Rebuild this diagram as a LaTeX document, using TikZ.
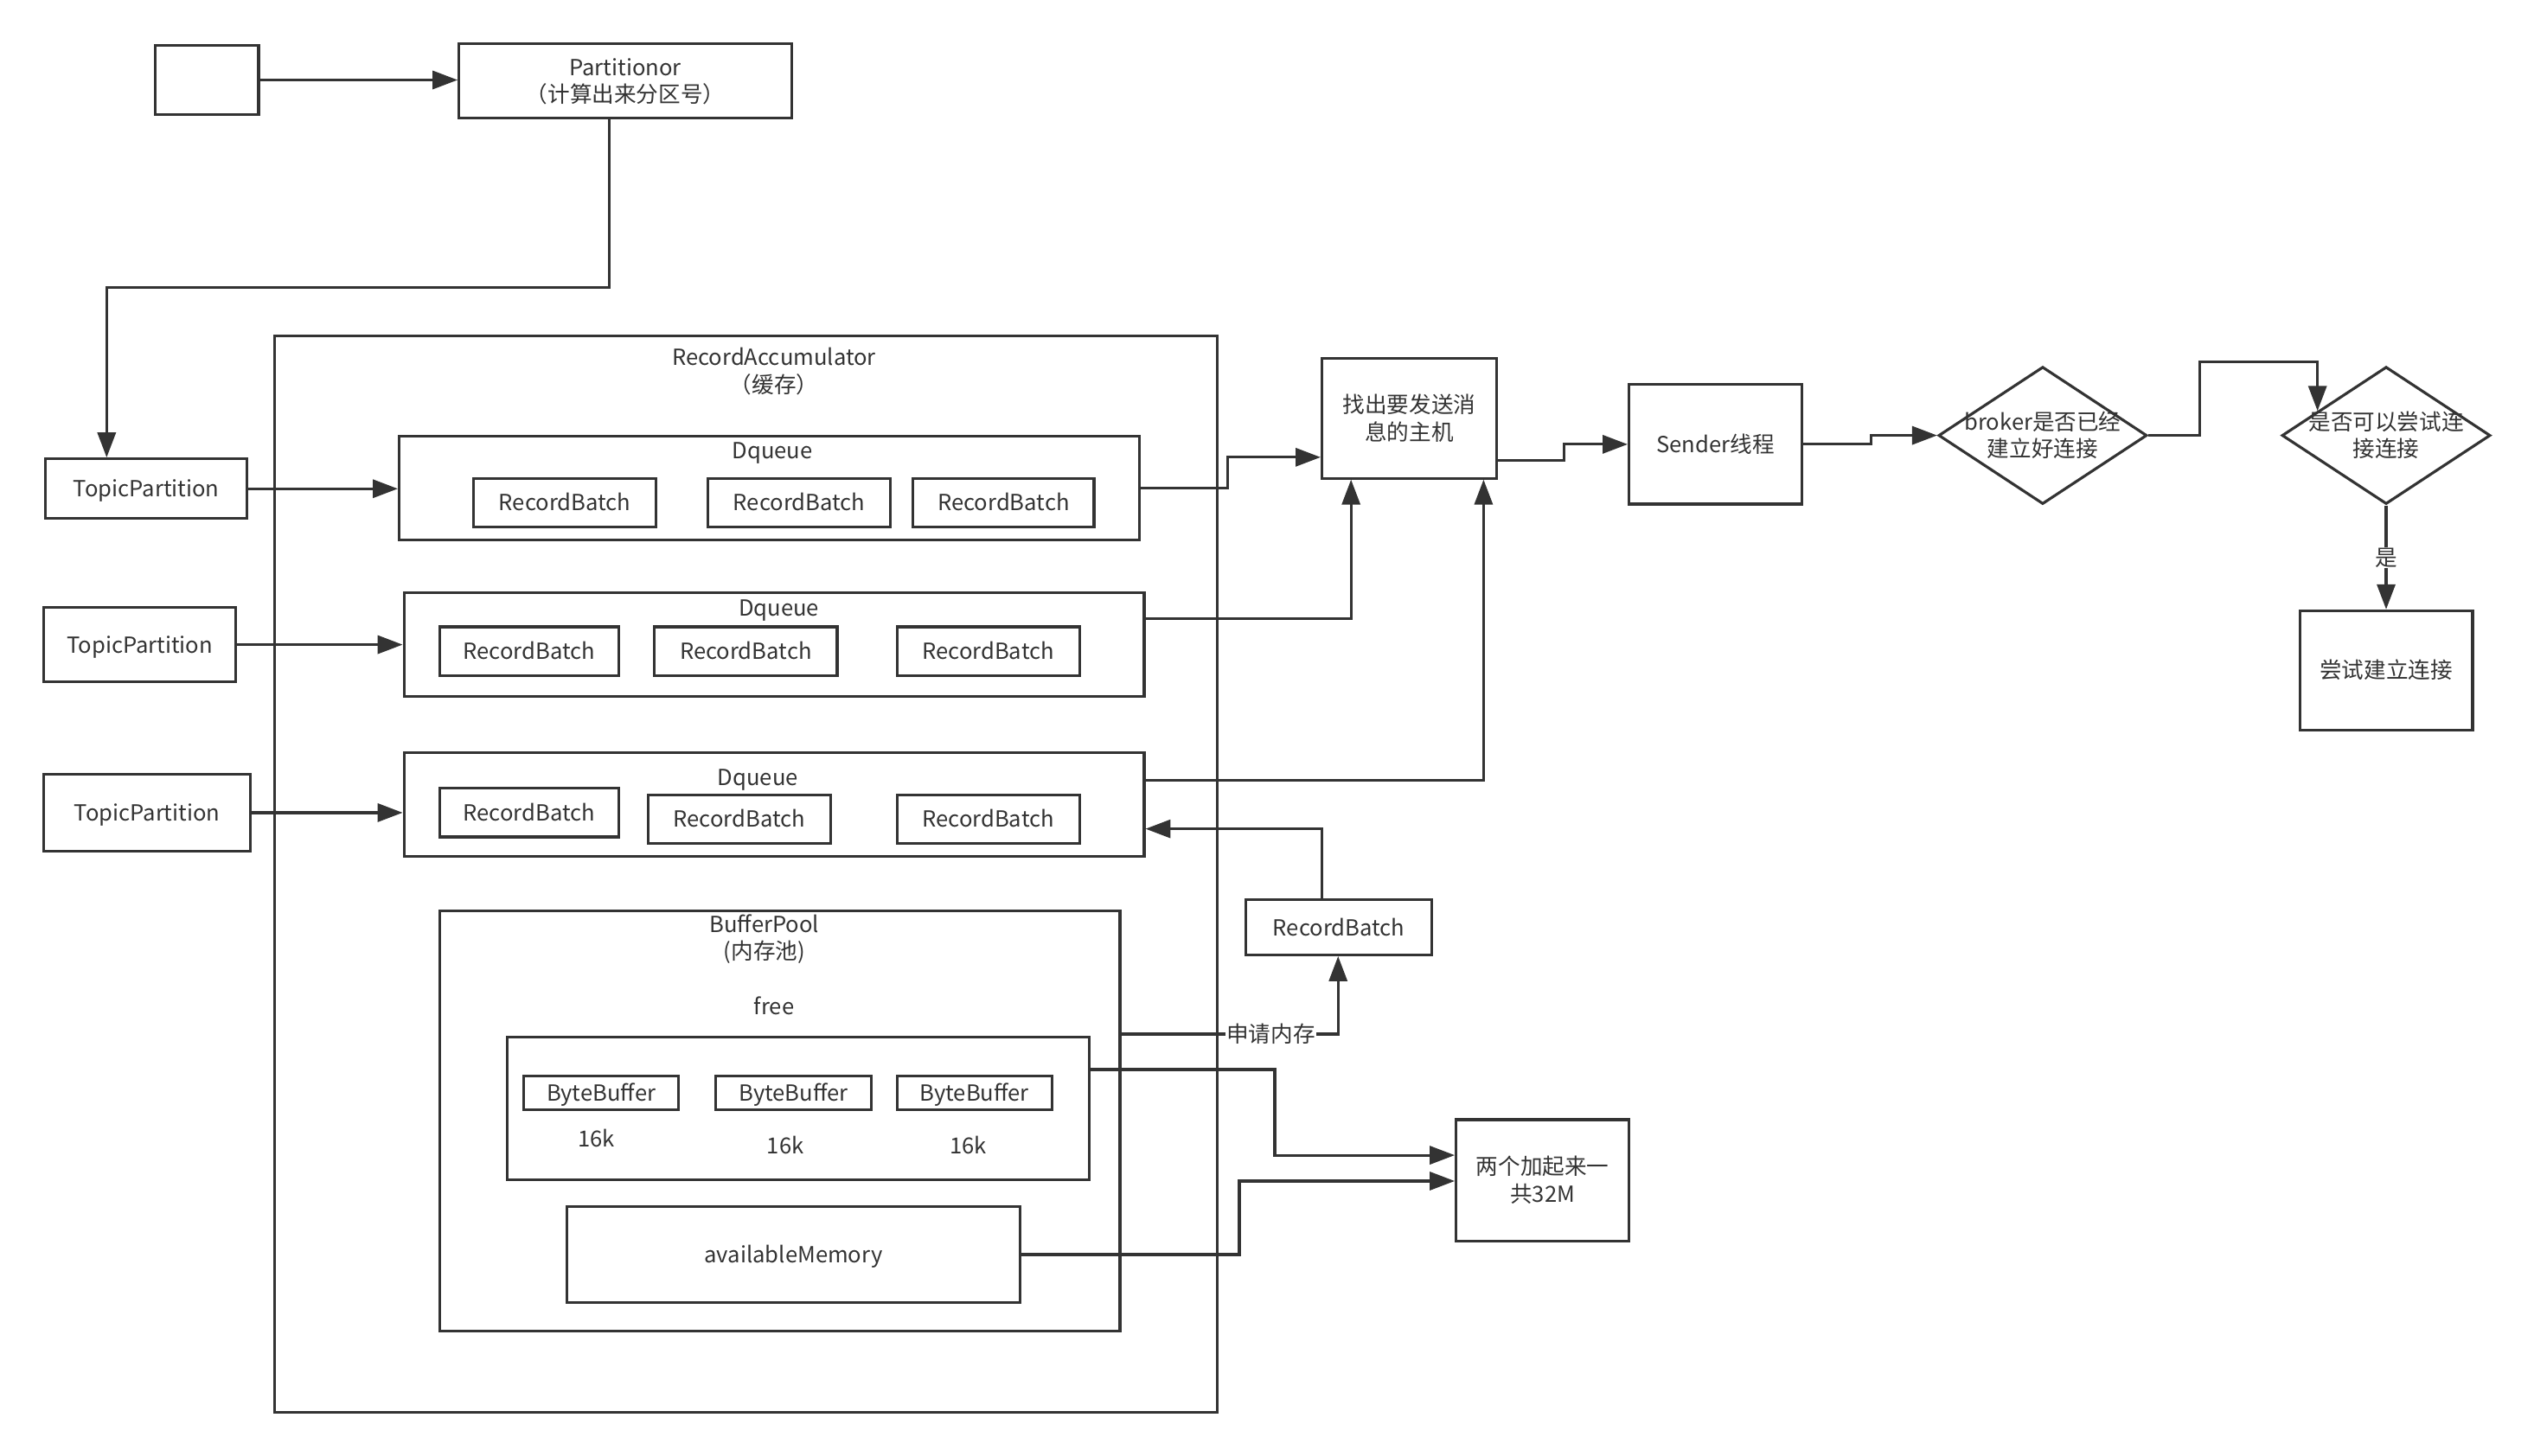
\documentclass[tikz,border=0pt]{standalone}
\usepackage{fontspec}
\setmainfont{Noto Sans CJK SC}
\usetikzlibrary{arrows.meta,calc,shapes.geometric}
\definecolor{lc}{HTML}{333333}
\newcommand\myfs{\fontsize{19.5pt}{24pt}\selectfont}
\newcommand\one[1]{\raisebox{-0.37em}[0.37em][0.37em]{#1}}
\newcommand\two[2]{\raisebox{\dimexpr-12pt-0.37em\relax}[\dimexpr12pt+0.37em\relax][\dimexpr12pt+0.37em\relax]{\begin{tabular}[b]{@{}c@{}}#1\\#2\end{tabular}}}
\begin{document}
\begin{tikzpicture}[x=0.05cm,y=-0.05cm,
  box/.style 2 args={draw=lc, line width=2.4pt, rectangle, inner sep=0pt, text=lc, font=\myfs,
     minimum width={#1*0.05cm}, minimum height={#2*0.05cm}},
  txt/.style={text=lc, font=\myfs, inner sep=0pt},
  dia/.style={draw=lc, line width=2.4pt, diamond, inner sep=0pt, minimum width=6.45cm, minimum height=4.25cm},
  arr/.style={draw=lc, line width=2.4pt, -{Triangle[length=22pt,width=16pt]}},
]
\useasboundingbox (0,0) rectangle (1568,901);

% top
\node[box={64}{43}] (src) at (128,49.5) {};
\node[box={206}{46}] (part) at (387,50) {\two{Partitionor}{（计算出来分区号）}};

% topic partitions
\node[box={125}{37}] (tp1) at (90.5,302.5) {\one{TopicPartition}};
\node[box={119}{46}] (tp2) at (86.5,399) {\one{TopicPartition}};
\node[box={128}{48}] (tp3) at (91,503) {\one{TopicPartition}};

% record accumulator
\node[box={583}{666}] (ra) at (461.5,541) {};
\node[txt] (ratitle) at (479,229.5) {\two{RecordAccumulator}{（缓存）}};

\node[box={458}{64}] (dq1) at (476,302) {};
\node[txt] (dq1t) at (478,279) {\one{Dqueue}};
\node[box={113}{30}] (rb11) at (349.5,311) {\one{RecordBatch}};
\node[box={113}{30}] (rb12) at (494.5,311) {\one{RecordBatch}};
\node[box={112}{30}] (rb13) at (621,311) {\one{RecordBatch}};

\node[box={458}{64}] (dq2) at (479,399) {};
\node[txt] (dq2t) at (482,376) {\one{Dqueue}};
\node[box={111}{30}] (rb21) at (327.5,403) {\one{RecordBatch}};
\node[box={113}{30}] (rb22) at (461.5,403) {\one{RecordBatch}};
\node[box={113}{30}] (rb23) at (611.5,403) {\one{RecordBatch}};

\node[box={458}{64}] (dq3) at (479,498) {};
\node[txt] (dq3t) at (469,481) {\one{Dqueue}};
\node[box={111}{30}] (rb31) at (327.5,503) {\one{RecordBatch}};
\node[box={113}{30}] (rb32) at (457.5,507) {\one{RecordBatch}};
\node[box={113}{30}] (rb33) at (611.5,507) {\one{RecordBatch}};

% buffer pool
\node[box={421}{260}] (bp) at (482.5,694) {};
\node[txt] (bpt) at (473,580.5) {\two{BufferPool}{(内存池)}};
\node[txt] (freet) at (479,623) {\one{free}};
\node[box={360}{88}] (free) at (494,686) {};
\node[box={96}{21}] (bb1) at (372,676.5) {\one{ByteBuffer}};
\node[box={96}{21}] (bb2) at (491,676.5) {\one{ByteBuffer}};
\node[box={96}{21}] (bb3) at (603,676.5) {\one{ByteBuffer}};
\node[txt] (k1) at (369,705) {\one{16k}};
\node[txt] (k2) at (486,709) {\one{16k}};
\node[txt] (k3) at (599,709) {\one{16k}};
\node[box={280}{59}] (avail) at (491,776.5) {\one{availableMemory}};

% right side
\node[box={108}{74}] (find) at (872,259) {\two{找出要发送消}{息的主机}};
\node[box={107}{74}] (sender) at (1061.5,275) {\one{Sender线程}};
\node[dia] (d1) at (1264,269.5) {};
\node[txt] (d1t) at (d1) {\two{broker是否已经}{建立好连接}};
\node[dia] (d2) at (1476.5,269.5) {};
\node[txt] (d2t) at (d2) {\two{是否可以尝试连}{接连接}};
\node[box={107}{74}] (try) at (1476.5,415) {\one{尝试建立连接}};
\node[box={115}{34}] (rbx) at (828.5,574) {\one{RecordBatch}};
\node[box={107}{75}] (two) at (954.5,730.5) {\two{两个加起来一}{共32M}};

% connectors
\draw[arr] (src.east) -- (part.west |- src.east);
\draw[arr] (part.south -| 377,0) |- (66,178) -- (tp1.north -| 66,0);
\draw[arr] (tp1.east) -- (dq1.west |- tp1.east);
\draw[arr] (tp2.east) -- (dq2.west |- tp2.east);
\draw[arr] (tp3.east) -- (dq3.west |- tp3.east);
\draw[arr] (dq1.east) -- ++(54,0) |- (find.west |- 0,283);
\draw[arr] (dq2.east |- 0,383) -| (find.south -| 836,0);
\draw[arr] (dq3.east |- 0,483) -| (find.south -| 918,0);
\draw[arr] (find.east |- 0,285) -- ++(41,0) |- (sender.west);
\draw[arr] (sender.east) -- ++(42,0) |- (d1.west);
\coordinate (d2in) at ($(d2.west)!0.35!(d2.north)$);
\draw[arr] (d1.east) -- ++(32,0) |- (d2in |- 0,224) -- (d2in);
\draw[arr] (d2.south) -- node[txt, fill=white, inner sep=2pt] (yes) {\one{是}} (try.north);
\draw[arr] (rbx.north -| 818,0) |- (dq3.east |- 0,513);
\draw[arr] (bp.east |- 0,640) -| node[pos=0.345, txt, fill=white, inner sep=1pt] (req) {\one{申请内存}} (rbx.south -| 828,0);
\draw[arr] (free.east |- 0,662) -- ++(114,0) |- (two.west |- 0,715);
\draw[arr] (avail.east) -- ++(135,0) |- (two.west |- 0,731);
\end{tikzpicture}
\end{document}
